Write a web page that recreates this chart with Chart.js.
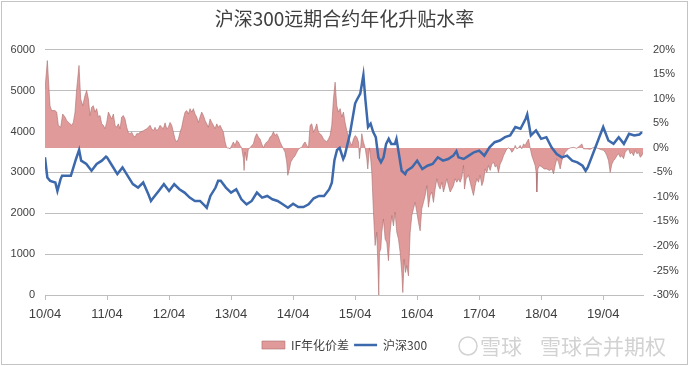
<!DOCTYPE html>
<html>
<head>
<meta charset="utf-8">
<script src="https://cdn.jsdelivr.net/npm/chart.js@4.4.1/dist/chart.umd.min.js"></script>
<style>
html, body { margin: 0; padding: 0; background: #fff; }
#wrap { width: 689px; height: 366px; }
</style>
</head>
<body>
<div id="wrap"><canvas id="chart" width="689" height="366"></canvas></div>
<script>
// axe des x : mois écoulés depuis avril 2010
const yearTicks = ['10/04', '11/04', '12/04', '13/04', '14/04', '15/04', '16/04', '17/04', '18/04', '19/04'];

// 沪深300 (axe de gauche)
const hs300Months = [0, 0.45, 1, 2, 2.4, 3, 3.3, 4, 5, 5.5, 6, 6.6, 7, 8, 9, 10, 11, 11.8, 12, 13, 14, 15, 16, 17, 18, 19,
  20, 20.5, 21, 22, 23, 24, 25, 26, 27, 28, 29, 30, 31, 31.3, 32, 33, 33.5, 34, 35, 36, 37, 38, 39, 40, 41, 42, 43, 44, 45,
  46, 47, 48, 49, 50, 51, 52, 53, 54, 55, 55.5, 56, 56.5, 57, 57.7, 58, 59, 60, 60.3, 61, 61.6, 62, 62.5, 63, 63.5, 64, 64.5,
  65, 65.5, 66, 66.5, 67, 67.7, 68, 69, 69.7, 70, 71, 72, 73, 74, 75, 76, 77, 78, 79, 79.6, 80, 81, 82, 83, 84, 85, 86, 87,
  88, 89, 90, 91, 92, 93, 93.3, 94, 95, 96, 97, 98, 99, 100, 101, 102, 103, 104, 104.6, 105, 106, 107, 108, 109, 110, 111,
  112, 113, 114, 115, 115.5];
const hs300 = [3369, 2876, 2794, 2753, 2547, 2830, 2917, 2917, 2917, 3122, 3328, 3550, 3287, 3205, 3040, 3205, 3287, 3385,
  3369, 3163, 2958, 3122, 2917, 2712, 2629, 2753, 2465, 2300, 2383, 2547, 2712, 2547, 2712, 2588, 2506, 2383, 2301, 2301,
  2177, 2136, 2424, 2629, 2794, 2794, 2629, 2506, 2588, 2342, 2219, 2301, 2506, 2383, 2424, 2342, 2301, 2219, 2136, 2235,
  2153, 2153, 2219, 2366, 2424, 2424, 2588, 2750, 3300, 3550, 3600, 3328, 3410, 3944, 4684, 4766, 4930, 5382, 4766, 4109,
  4191, 3985, 3862, 3369, 3246, 3369, 3698, 3821, 3698, 3698, 3821, 3040, 2958, 3040, 3122, 3287, 3081, 3163, 3205, 3369,
  3287, 3328, 3410, 3520, 3369, 3328, 3410, 3492, 3533, 3410, 3615, 3739, 3780, 3862, 3903, 4109, 4067, 4314, 4421, 3903,
  4026, 3821, 3862, 3615, 3451, 3369, 3410, 3287, 3246, 3163, 3040, 3122, 3451, 3780, 4109, 3780, 3698, 3862, 3698, 3944,
  3903, 3928, 3985];

// IF年化价差 en % (axe de droite)
const spreadMonths = [0, 0.45, 0.97, 1.29, 1.94, 2.26, 2.58, 3.03, 3.42, 3.87, 4.19, 4.84, 5.16, 5.48, 5.81, 6.13, 6.58,
  6.9, 7.29, 7.74, 8.06, 8.39, 8.71, 9.03, 9.35, 9.68, 10, 10.32, 10.65, 10.97, 11.29, 11.61, 11.94, 12.26, 12.58, 12.9,
  13.23, 13.55, 13.87, 14.19, 14.52, 14.84, 15.16, 15.48, 15.81, 16.13, 16.45, 16.77, 17.1, 17.42, 17.74, 18.06, 18.39,
  19.03, 19.68, 20, 20.32, 20.65, 20.97, 21.29, 21.61, 21.94, 22.26, 22.58, 22.9, 23.23, 23.55, 23.87, 24.19, 24.52, 24.84,
  25.16, 25.48, 25.81, 26.13, 26.45, 26.77, 27.1, 27.42, 27.74, 28.06, 28.39, 28.71, 29.03, 29.35, 29.68, 30, 30.32, 30.65,
  30.97, 31.29, 31.61, 31.94, 32.26, 32.58, 32.9, 33.23, 33.55, 33.87, 34.19, 34.52, 34.84, 35.16, 35.48, 35.81, 36.13,
  36.45, 36.77, 37.1, 37.42, 37.74, 38.06, 38.39, 38.52, 38.71, 39.03, 39.35, 39.68, 40, 40.32, 40.65, 40.97, 41.29, 41.61,
  41.94, 42.26, 42.58, 42.9, 43.23, 43.55, 43.87, 44.19, 44.52, 44.84, 45.16, 45.48, 45.81, 46.13, 46.45, 46.77, 46.97,
  47.29, 47.55, 47.94, 48.39, 48.71, 49.03, 49.35, 49.68, 50, 50.32, 50.65, 50.97, 51.29, 51.61, 51.94, 52.26, 52.58,
  52.9, 53.23, 53.55, 53.87, 54.19, 54.52, 54.84, 55.16, 55.48, 55.81, 56.13, 56.45, 56.77, 57.1, 57.42, 57.74, 58.06,
  58.39, 58.71, 59.03, 59.35, 59.68, 60, 60.32, 60.65, 60.84, 61.1, 61.29, 61.61, 61.94, 62.26, 62.45, 62.77, 62.9, 63.23,
  63.55, 63.87, 64.19, 64.39, 64.58, 64.71, 64.97, 65.16, 65.48, 65.81, 66.13, 66.45, 66.77, 67.1, 67.42, 67.74, 68.06,
  68.39, 68.71, 69.03, 69.23, 69.48, 69.74, 70, 70.32, 70.65, 70.97, 71.29, 71.61, 71.94, 72.26, 72.58, 72.9, 73.23, 73.55,
  73.87, 74.19, 74.52, 74.84, 75.16, 75.48, 75.81, 76.13, 76.45, 76.77, 77.1, 77.42, 77.74, 78.06, 78.39, 78.71, 79.03,
  79.35, 79.68, 80, 80.32, 80.65, 80.97, 81.16, 81.48, 81.94, 82.26, 82.58, 82.9, 83.23, 83.55, 83.87, 84.19, 84.52, 84.84,
  85.16, 85.48, 85.81, 86.13, 86.45, 86.77, 87.1, 87.42, 87.74, 88.06, 88.39, 88.71, 89.03, 89.35, 89.68, 90, 90.32, 90.65,
  90.97, 91.29, 91.61, 91.94, 92.26, 92.58, 92.9, 93.23, 93.55, 93.87, 94.19, 94.52, 94.84, 95.03, 95.16, 95.35, 95.68,
  96.13, 96.58, 97.1, 97.61, 98.06, 98.39, 98.71, 99.03, 99.35, 99.68, 100, 100.32, 100.65, 100.97, 101.29, 101.61,
  102.26, 102.9, 103.55, 103.87, 104.19, 104.84, 105.48, 106.13, 106.77, 107.42, 108.06, 108.39, 108.71, 109.03, 109.35,
  109.68, 110, 110.32, 110.65, 110.97, 111.29, 111.61, 111.94, 112.26, 112.58, 112.9, 113.23, 113.55, 113.87, 114.19,
  114.52, 114.84, 115.16, 115.48, 115.7];
const spread = [12.0, 17.8, 8.6, 7.6, 7.6, 7.3, 4.6, 4.2, 6.9, 6.3, 5.6, 4.9, 4.6, 5.2, 7.3, 12.0, 16.8, 10.0, 8.6, 10.7,
  11.7, 10.0, 6.6, 8.3, 8.6, 7.3, 8.0, 6.3, 6.6, 4.9, 4.6, 3.9, 5.2, 7.3, 6.6, 5.9, 6.9, 4.6, 4.2, 4.9, 3.9, 6.3, 6.6, 5.9,
  4.2, 3.1, 2.9, 3.2, 2.5, 2.2, 2.9, 2.9, 3.2, 3.5, 3.9, 4.2, 4.6, 3.9, 3.5, 4.2, 3.5, 3.9, 4.6, 4.2, 3.9, 5.1, 3.9, 4.2,
  5.2, 4.6, 3.2, 1.8, 1.2, 1.8, 3.2, 4.2, 5.9, 7.3, 7.6, 6.9, 8.0, 7.3, 8.0, 6.9, 6.3, 5.2, 6.3, 7.3, 6.6, 5.6, 4.9, 4.2,
  5.9, 5.2, 4.6, 3.9, 4.9, 4.2, 4.6, 3.9, 3.2, 1.2, 0, 0, -0.2, 0.5, 1.2, 0.5, 1.5, 1.2, 0.5, 0, -2.2, -4.6, -0.9, -2.6,
  -0.2, 0, 0.5, 0.8, 2.2, 2.9, 2.2, 1.8, 0.8, 0, 0.8, 1.2, 1.5, 2.2, 2.5, 3.3, 2.5, 2.9, 2.2, 1.2, 0.5, -0.2, -0.9, -2.9,
  -5.6, -4.3, -2.9, -2.2, -1.6, -0.9, -0.3, 0, 0.1, 0.8, 1.2, 0.5, 0, 4.6, 4.9, 3.2, 3.9, 4.9, 3.2, 2.9, 2.5, 1.8, 1.5, 1.2,
  1.8, 2.5, 4.6, 10.0, 13.4, 8.6, 7.3, 8.0, 6.3, 7.3, 5.2, 3.5, 2.2, 1.2, 0.5, 1.8, 2.5, 2.2, 1.2, -2.2, 0.5, 2.9, 1.2, 0,
  -2.2, -4.3, 0, -0.9, -5.0, -13.1, -19.9, -17.2, -23.3, -30.0, -21.3, -20.6, -17.2, -14.5, -18.6, -19.3, -23.0, -17.2,
  -13.8, -15.9, -13.1, -17.2, -18.6, -21.3, -25.4, -29.5, -22.7, -25.4, -24.0, -26.1, -17.2, -13.8, -12.4, -11.1, -13.1,
  -15.2, -16.9, -12.4, -11.1, -9.7, -7.7, -12.1, -9.7, -9.0, -11.1, -8.4, -6.3, -7.7, -8.4, -7.0, -9.0, -7.7, -6.3, -7.7,
  -9.0, -8.4, -7.7, -6.3, -7.0, -6.3, -7.0, -6.0, -3.6, -8.4, -6.3, -5.6, -7.0, -8.4, -9.7, -7.7, -6.3, -7.0, -5.6, -7.7,
  -6.7, -4.3, -5.0, -3.6, -4.6, -3.3, -2.9, -3.9, -3.6, -5.0, -3.3, -2.6, -1.6, -0.9, -0.2, 0, -0.2, -0.9, -0.5, 0.5, -0.2,
  0, 0.5, -0.2, 0.8, 0.5, 1.2, 1.8, 0, -1.6, -2.6, -3.6, -5.0, -9.0, -4.3, -3.6, -3.9, -4.3, -4.3, -4.6, -4.3, -5.3, -3.6,
  -2.2, -2.9, -4.3, -2.6, -1.6, -0.9, -0.5, -0.2, 0, 0.1, -0.1, 0.5, 0.8, -0.2, -0.2, -0.3, 0.1, 0, -0.3, -0.5, -0.9, -1.6,
  -2.6, -5.0, -3.3, -2.6, -2.2, -1.6, -1.2, -1.9, -1.6, -2.2, -0.9, -0.5, -0.2, -1.2, -0.9, -1.6, -0.5, -1.2, -0.9, -1.9,
  -1.6, -0.9];

const tickFont = { family: 'Liberation Sans', size: 11 };
const textColor = '#404040';
const gridColor = '#BEBEBE';

// cadre gris et filigrane
const framePlugin = {
  id: 'frame',
  afterDraw(chart) {
    const ctx = chart.ctx;
    ctx.save();
    ctx.strokeStyle = '#C4C4C4';
    ctx.lineWidth = 1;
    ctx.strokeRect(1.5, 1.5, chart.width - 3, chart.height - 3);
    ctx.fillStyle = '#D2D2D2';
    ctx.strokeStyle = '#D2D2D2';
    ctx.lineWidth = 1.5;
    ctx.beginPath();
    ctx.arc(468, 346, 9, 0, Math.PI * 2);
    ctx.stroke();
    ctx.font = '21px "Noto Sans CJK SC"';
    ctx.textBaseline = 'middle';
    ctx.fillText('雪球', 480, 346);
    ctx.fillText('雪球合并期权', 540, 346);
    ctx.restore();
  }
};

new Chart(document.getElementById('chart'), {
  type: 'line',
  data: {
    datasets: [{
      label: 'IF年化价差',
      data: spreadMonths.map((m, i) => ({ x: m, y: spread[i] })),
      yAxisID: 'y1',
      fill: 'origin',
      backgroundColor: '#E09A9A',
      borderColor: 'rgba(170,110,110,0.85)',
      borderWidth: 0.7,
      pointRadius: 0,
      pointStyle: 'rect',
      tension: 0,
      order: 1
    }, {
      label: '沪深300',
      data: hs300Months.map((m, i) => ({ x: m, y: hs300[i] })),
      yAxisID: 'y',
      fill: false,
      borderColor: '#3C68AC',
      backgroundColor: '#3C68AC',
      borderWidth: 2.5,
      pointRadius: 0,
      pointStyle: 'line',
      tension: 0,
      order: 0
    }]
  },
  options: {
    responsive: false,
    devicePixelRatio: 1,
    animation: false,
    layout: { padding: { left: 0, right: 0, top: 0, bottom: 5 } },
    plugins: {
      title: {
        display: true,
        text: '沪深300远期合约年化升贴水率',
        color: '#404040',
        font: { family: 'Noto Sans CJK SC', size: 19, weight: 'normal' },
        padding: { top: 7, bottom: 20 }
      },
      legend: {
        position: 'bottom',
        labels: {
          usePointStyle: true,
          pointStyleWidth: 23,
          boxHeight: 8,
          padding: 5,
          color: textColor,
          font: { family: 'Noto Sans CJK SC', size: 12 },
          sort: (a, b) => a.datasetIndex - b.datasetIndex
        }
      },
      tooltip: { enabled: false }
    },
    scales: {
      x: {
        type: 'linear',
        min: 0,
        max: 115.7,
        afterFit(scale) { scale.height = 39; },
        grid: { drawOnChartArea: false, tickLength: 5, color: gridColor },
        border: { display: true, color: gridColor },
        ticks: {
          stepSize: 12,
          includeBounds: false,
          autoSkip: false,
          maxRotation: 0,
          padding: 7,
          color: textColor,
          font: { family: 'Liberation Sans', size: 13 },
          callback: v => yearTicks[v / 12]
        }
      },
      y: {
        position: 'left',
        min: 0,
        max: 6000,
        afterFit(scale) { scale.width = 45; },
        grid: { color: gridColor, drawTicks: false },
        border: { display: false },
        ticks: { stepSize: 1000, padding: 10, color: textColor, font: tickFont, callback: v => String(v) }
      },
      y1: {
        position: 'right',
        min: -30,
        max: 20,
        afterFit(scale) { scale.width = 46; },
        grid: { drawOnChartArea: false, drawTicks: false },
        border: { display: false },
        ticks: { stepSize: 5, padding: 10, color: textColor, font: tickFont, callback: v => v + '%' }
      }
    }
  },
  plugins: [framePlugin]
});
</script>
</body>
</html>
